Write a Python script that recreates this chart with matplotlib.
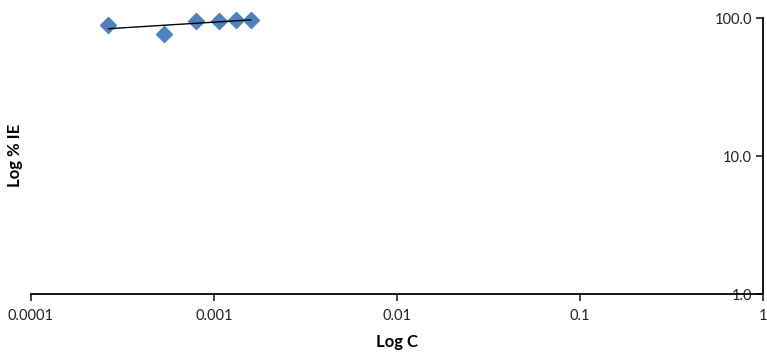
import numpy as np
import matplotlib
matplotlib.use("Agg")
import matplotlib.pyplot as plt
from matplotlib.ticker import FixedLocator, FixedFormatter, NullLocator

plt.rcParams['font.family'] = ['Lato', 'DejaVu Sans']

# Inhibitor concentration (M) and inhibition efficiency (%)
conc = [2.65e-4, 5.30e-4, 7.95e-4, 1.06e-3, 1.325e-3, 1.59e-3]
ie = [89.5, 77.0, 94.5, 95.5, 97.0, 97.5]

x_ticks = [0.0001, 0.001, 0.01, 0.1, 1]
x_tick_labels = ["0.0001", "0.001", "0.01", "0.1", "1"]
y_ticks = [1, 10, 100]
y_tick_labels = ["1.0", "10.0", "100.0"]

fig = plt.figure(figsize=(7.67, 3.52), dpi=100)
ax = fig.add_axes([31/767, 1 - 294/352, (763 - 31)/767, (294 - 18)/352])

ax.set_xscale('log')
ax.set_yscale('log')
ax.set_xlim(0.0001, 1)
ax.set_ylim(1, 100)

ax.plot(conc, ie, linestyle='none', marker='D', markersize=8.5,
        color='#4F81BD', markeredgecolor='#4F81BD', zorder=2, clip_on=False)

# Power-law trendline (straight on log-log axes), drawn over the markers
lx, ly = np.log10(conc), np.log10(ie)
b, a = np.polyfit(lx, ly, 1)
xs = np.array([min(conc), max(conc)])
ax.plot(xs, 10 ** (a + b * np.log10(xs)), color='black', lw=1.0, zorder=3,
        clip_on=False)

# Axis styling: value axis placed at the right edge
for s in ['top', 'right']:
    ax.spines[s].set_visible(False)
ax.spines['left'].set_position(('axes', 1.0))
ax.spines['left'].set_linewidth(1.3)
ax.spines['bottom'].set_linewidth(1.3)

ax.xaxis.set_major_locator(FixedLocator(x_ticks))
ax.xaxis.set_major_formatter(FixedFormatter(x_tick_labels))
ax.xaxis.set_minor_locator(NullLocator())
ax.yaxis.set_major_locator(FixedLocator(y_ticks))
ax.yaxis.set_major_formatter(FixedFormatter(y_tick_labels))
ax.yaxis.set_minor_locator(NullLocator())

ax.tick_params(axis='x', direction='out', length=5, width=1.2, labelsize=10.5,
               pad=6, colors='#222222')
ax.tick_params(axis='y', direction='out', length=5, width=1.2, labelsize=10.5,
               pad=3, colors='#222222')

ax.set_xlabel('Log C', fontsize=12, fontweight='bold', labelpad=8)
fig.text(15/767, 1 - 155/352, 'Log % IE', rotation=90, fontsize=12,
         fontweight='bold', ha='center', va='center')

fig.savefig('out.png', dpi=100)
